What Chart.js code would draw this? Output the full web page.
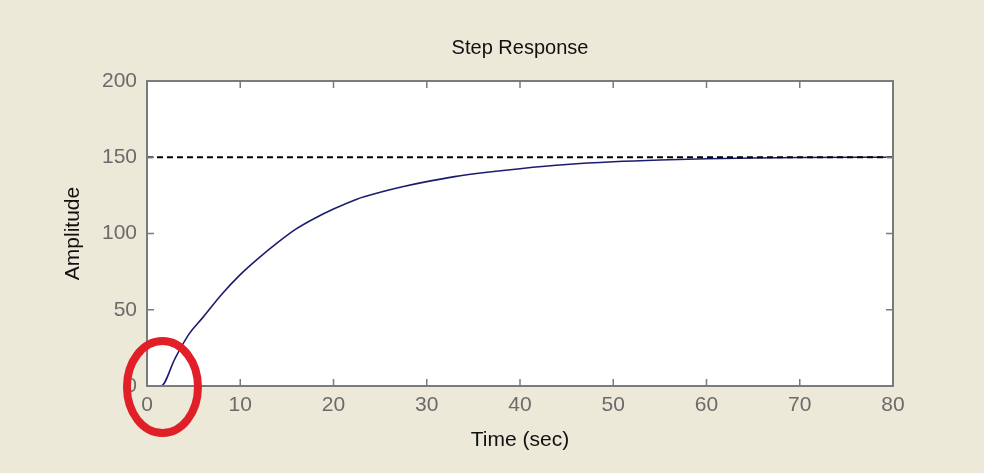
<!DOCTYPE html>
<html>
<head>
<meta charset="utf-8">
<script src="https://cdn.jsdelivr.net/npm/chart.js@4"></script>
<style>
  html, body { margin: 0; padding: 0; background: #ECE9D8; }
  #wrap { width: 984px; height: 473px; }
</style>
</head>
<body>
<div id="wrap"><canvas id="stepChart" width="984" height="473"></canvas></div>
<script>
// step response (time in sec, amplitude)
const timeSec = [0, 1.5, 3, 4.5, 6, 8, 10, 12, 14, 16, 18, 20, 22.5, 25, 27.5, 30, 33, 36, 40, 45, 50, 55, 60, 65, 70, 80];
const amplitude = [0, 0, 18, 34, 45, 60, 73, 84, 94, 103, 110, 116, 122.5, 127, 130.8, 134, 137.3, 139.8, 142.5, 145.2, 147, 148.2, 149, 149.5, 149.8, 150];

// steady-state value (dashed line)
const finalTime = [0, 80];
const finalValue = [150, 150];

const xTicks = [0, 10, 20, 30, 40, 50, 60, 70, 80];
const yTicks = [0, 50, 100, 150, 200];

const chartTitle = "Step Response";
const tickColor = "#6b6b6b";
const frameColor = "#7b7b7b";
const fontFamily = "Liberation Sans, Arial, sans-serif";

// page background, white axes box, frame with inward ticks, title, red circle
const matlabFrame = {
  id: "matlabFrame",
  beforeDraw(chart) {
    const { ctx, chartArea: a } = chart;
    ctx.save();
    ctx.fillStyle = "#ECE9D8";
    ctx.fillRect(0, 0, chart.width, chart.height);
    ctx.fillStyle = "#ffffff";
    ctx.fillRect(a.left, a.top, a.right - a.left, a.bottom - a.top);
    ctx.restore();
  },
  afterDatasetsDraw(chart) {
    const { ctx, chartArea: a, scales } = chart;
    const len = 7;
    ctx.save();
    ctx.strokeStyle = frameColor;
    ctx.lineWidth = 1.5;
    ctx.beginPath();
    xTicks.forEach((v) => {
      const px = scales.x.getPixelForValue(v);
      ctx.moveTo(px, a.bottom);
      ctx.lineTo(px, a.bottom - len);
      ctx.moveTo(px, a.top);
      ctx.lineTo(px, a.top + len);
    });
    yTicks.forEach((v) => {
      const py = scales.y.getPixelForValue(v);
      ctx.moveTo(a.left, py);
      ctx.lineTo(a.left + len, py);
      ctx.moveTo(a.right, py);
      ctx.lineTo(a.right - len, py);
    });
    ctx.stroke();
    ctx.lineWidth = 2;
    ctx.strokeRect(a.left, a.top, a.right - a.left, a.bottom - a.top);
    ctx.restore();
  },
  afterDraw(chart) {
    const { ctx, chartArea: a, scales } = chart;
    ctx.save();
    // title centred over the axes box
    ctx.fillStyle = "#111111";
    ctx.font = "20px " + fontFamily;
    ctx.textAlign = "center";
    ctx.textBaseline = "middle";
    ctx.fillText(chartTitle, (a.left + a.right) / 2, 48);

    const cx = scales.x.getPixelForValue(1.66);
    const cy = scales.y.getPixelForValue(-0.7);
    ctx.strokeStyle = "#E11F28";
    ctx.lineWidth = 8;
    ctx.beginPath();
    ctx.ellipse(cx, cy, 35.5, 46, 0, 0, Math.PI * 2);
    ctx.stroke();
    ctx.restore();
  },
};

new Chart(document.getElementById("stepChart"), {
  type: "line",
  data: {
    datasets: [
      {
        label: "Final value",
        data: finalTime.map((t, i) => ({ x: t, y: finalValue[i] })),
        borderColor: "#000000",
        borderWidth: 2,
        borderDash: [6, 4],
        pointRadius: 0,
      },
      {
        label: "Step response",
        data: timeSec.map((t, i) => ({ x: t, y: amplitude[i] })),
        borderColor: "#1c1c6e",
        borderWidth: 1.6,
        pointRadius: 0,
        cubicInterpolationMode: "monotone",
      },
    ],
  },
  options: {
    responsive: false,
    animation: false,
    devicePixelRatio: 1,
    layout: { padding: { left: 0, right: 91, top: 81, bottom: 0 } },
    plugins: {
      legend: { display: false },
      tooltip: { enabled: false },
      title: { display: false },
    },
    scales: {
      x: {
        type: "linear",
        min: 0,
        max: 80,
        grid: { display: false, drawTicks: false },
        border: { display: false },
        ticks: {
          stepSize: 10,
          padding: 7,
          color: tickColor,
          font: { family: fontFamily, size: 21 },
        },
        title: {
          display: true,
          text: "Time (sec)",
          color: "#111111",
          font: { family: fontFamily, size: 21, lineHeight: 1 },
          padding: { top: 0, bottom: 22 },
        },
        afterFit(scale) { scale.height = 87; },
      },
      y: {
        min: 0,
        max: 200,
        grid: { display: false, drawTicks: false },
        border: { display: false },
        ticks: {
          stepSize: 50,
          padding: 10,
          color: tickColor,
          font: { family: fontFamily, size: 21 },
        },
        title: {
          display: true,
          text: "Amplitude",
          color: "#111111",
          font: { family: fontFamily, size: 21, lineHeight: 1 },
          padding: { top: 63, bottom: 0 },
        },
        afterFit(scale) { scale.width = 147; },
      },
    },
  },
  plugins: [matlabFrame],
});
</script>
</body>
</html>
